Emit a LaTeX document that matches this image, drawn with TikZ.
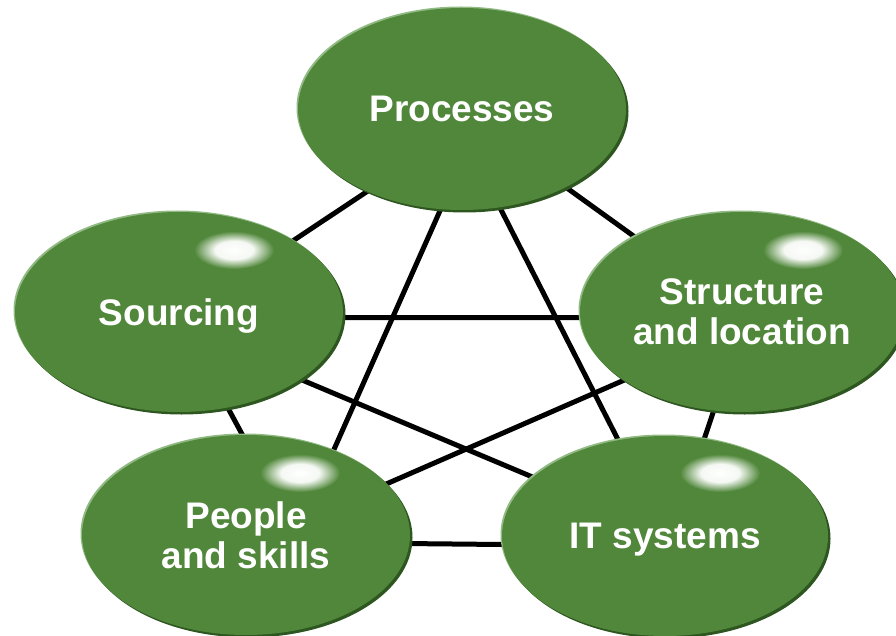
\documentclass[tikz,border=0pt]{standalone}
\usepackage{fontspec}
\setmainfont{Liberation Sans}
\usepackage{tikz}
\usetikzlibrary{shapes.geometric}
\usetikzlibrary{shadows}
\usetikzlibrary{backgrounds}

\definecolor{ovalgreen}{RGB}{80,135,58}
\definecolor{ovaldark}{RGB}{46,86,32}
\definecolor{ovallight}{RGB}{146,186,132}
\pgfdeclareradialshading{glare}{\pgfpointorigin}{color(0bp)=(white); color(12bp)=(white!94!ovalgreen); color(25bp)=(ovalgreen); color(50bp)=(ovalgreen)}

\tikzset{
  oval/.style={ellipse, fill=ovalgreen, text=white, align=center,
    inner sep=0pt, outer sep=0pt, text depth=0pt,
    minimum width=328pt, minimum height=200pt,
    font=\fontsize{37}{40}\selectfont\bfseries,
    general shadow={fill=ovallight, shadow xshift=-1.5pt, shadow yshift=1.5pt},
    general shadow={fill=ovaldark, shadow xshift=2.5pt, shadow yshift=-2.5pt}},
  shine/.style={shading=glare}
}

\begin{document}
\begin{tikzpicture}[x=1pt, y=-1pt]
\useasboundingbox (0,0) rectangle (896,636);
\begin{scope}
    \node[oval, minimum height=202pt] (p) at (462,109) {Processes};
    \node[oval] (s) at (179,312) {Sourcing};
    \node[oval, minimum width=324pt] (t) at (742,312) {Structure\\and location};
    \node[oval] (l) at (246,535) {People\\and skills};
    \node[oval, minimum width=326pt] (i) at (665,536) {IT systems};
\end{scope}

% glare spots
\shade[shine] ([shift={(55,-62)}]s.center) ellipse [x radius=40pt, y radius=19pt];
\shade[shine] ([shift={(61,-62)}]t.center) ellipse [x radius=40pt, y radius=19pt];
\shade[shine] ([shift={(54,-62)}]l.center) ellipse [x radius=40pt, y radius=19pt];
\shade[shine] ([shift={(55,-63)}]i.center) ellipse [x radius=40pt, y radius=19pt];

\begin{scope}[on background layer, every edge/.style={draw=black, line width=5pt, shorten <=-8pt, shorten >=-8pt}]
    \path [-] (p.221) edge (s.32);
    \path [-] (p.323) edge (t.145);
    \path [-] (p.258) edge (l.44);
    \path [-] (p.291) edge (i.116);

    \path [-] (s.358) edge (t.182);
    \path [-] (s.297) edge (l.92);
    \path [-] (s.331) edge (i.156);

    \path [-] (t.210) edge (l.20);
    \path [-] (t.254) edge (i.68);

    \path [-] (l.357) edge (i.183);
\end{scope}
\end{tikzpicture}
\end{document}
